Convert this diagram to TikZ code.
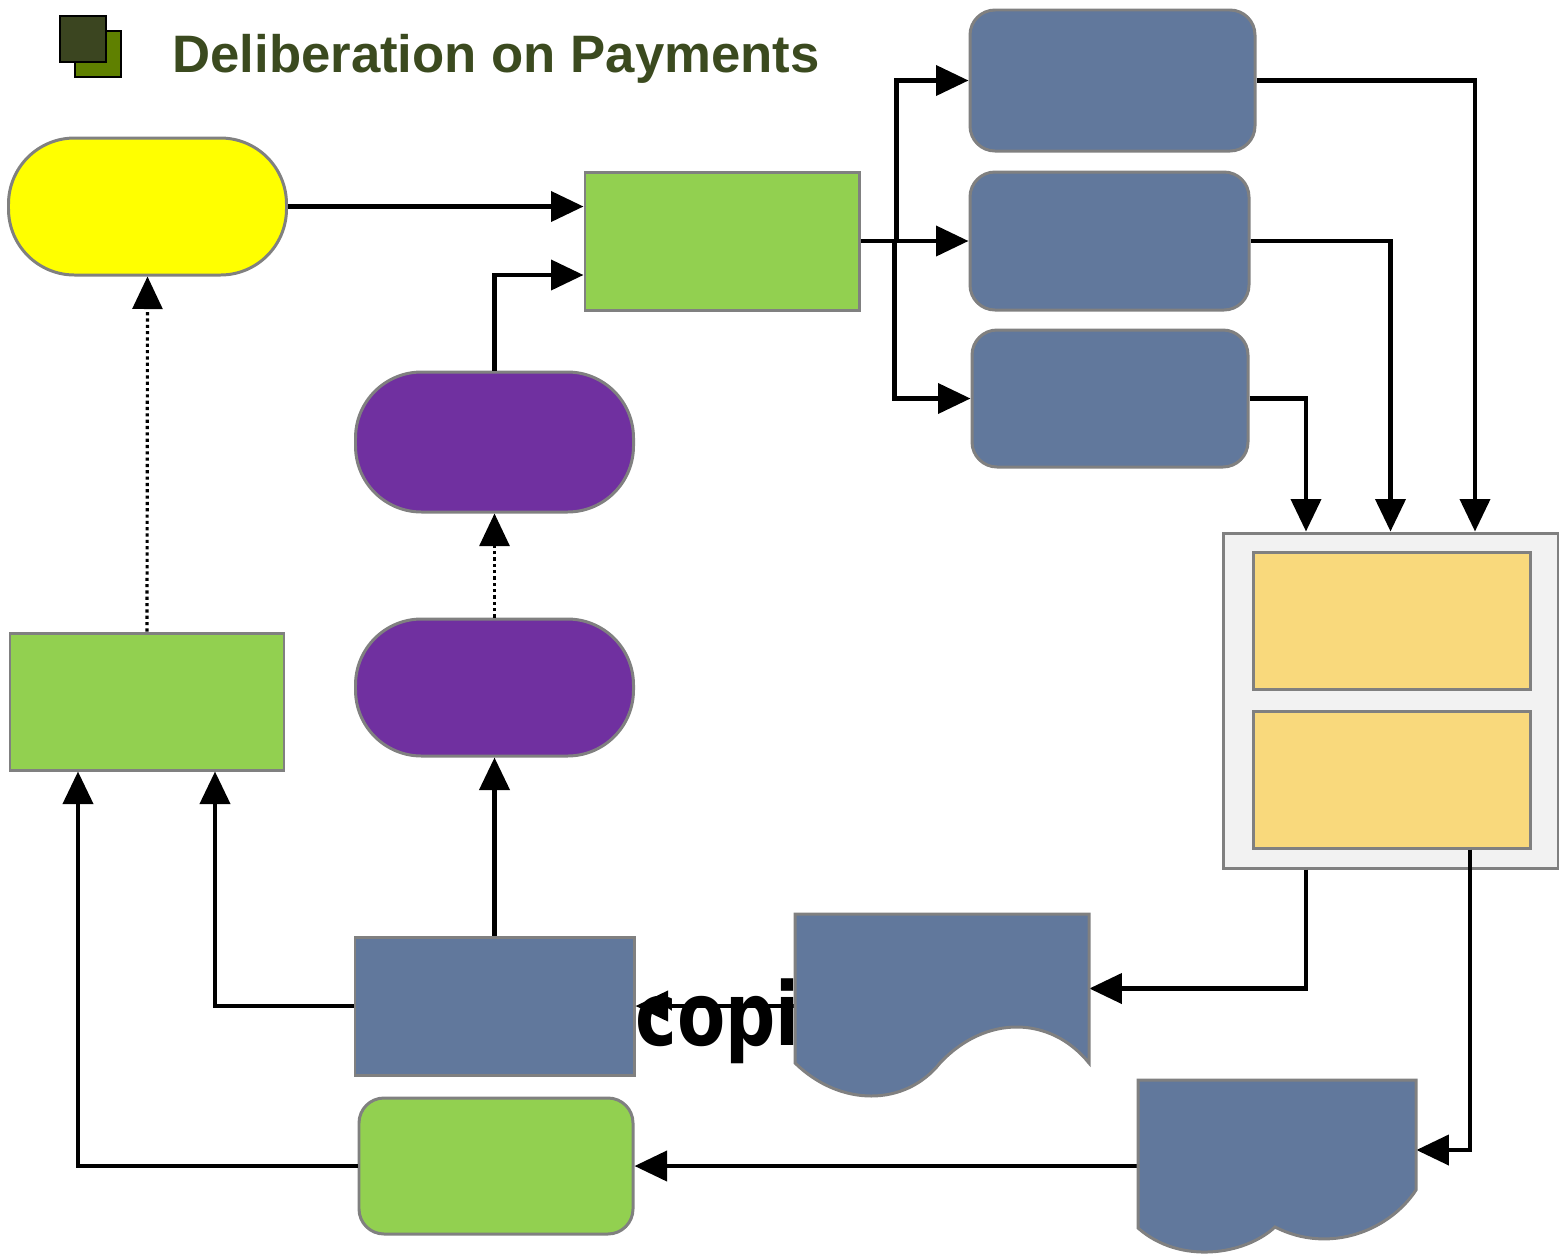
\documentclass[tikz,border=0pt]{standalone}
\usepackage{fontspec}
\usepackage{graphicx}
\usetikzlibrary{arrows.meta}
\newfontfamily\titlefont{Liberation Sans}
\newfontfamily\copifont{DejaVu Sans}
\newlength\px
\setlength\px{0.02cm}
\definecolor{slate}{HTML}{61789C}
\definecolor{leaf}{HTML}{92D050}
\definecolor{plum}{HTML}{7030A0}
\definecolor{lemon}{HTML}{FFFF00}
\definecolor{sand}{HTML}{F9D97C}
\definecolor{paper}{HTML}{F2F2F2}
\definecolor{edgegray}{HTML}{808080}
\definecolor{titlegreen}{HTML}{3B4A1F}
\definecolor{iconfront}{HTML}{3B4520}
\definecolor{iconback}{HTML}{5F8000}
\begin{document}
\begin{tikzpicture}[x=0.02cm,y=-0.02cm,
		base/.style={draw=edgegray, line width=1.7pt, inner sep=0pt},
		gbox/.style={base, fill=leaf, minimum width=274\px, minimum height=137\px},
		bbox/.style={base, fill=slate, rounded corners=25\px, minimum width=279\px, minimum height=138\px},
		term/.style={base, rounded corners=66\px, minimum width=278\px, minimum height=138\px},
		flow/.style={line width=2.5pt, -{Triangle[length=18.5pt,width=17pt]}},
		dotflow/.style={flow, line width=1.8pt, dash pattern=on 1.8pt off 1.8pt}]
	\useasboundingbox (0,0) rectangle (1559,1255);
	% title
	\node[draw, line width=1pt, fill=iconback, minimum size=46\px] (icb) at (98,54) {};
	\node[draw, line width=1pt, fill=iconfront, minimum size=46\px] (icf) at (83,39) {};
	\node[anchor=base west, inner sep=0pt, text=titlegreen, font=\titlefont\bfseries\fontsize{30}{36}\selectfont] (title) at (172,72) {Deliberation on Payments};
	% boxes
	\node[term, fill=lemon, minimum height=137\px] (yel) at (147.5,206.5) {};
	\node[gbox, minimum height=138\px] (g1) at (722,241) {};
	\node[bbox, minimum width=285\px, minimum height=141\px] (r1) at (1112.5,80.5) {};
	\node[bbox] (r2) at (1109.5,241) {};
	\node[bbox, minimum width=276\px, minimum height=137\px] (r3) at (1110,398.5) {};
	\node[term, fill=plum, minimum height=140\px] (p1) at (494.5,442) {};
	\node[term, fill=plum, minimum height=137\px] (p2) at (494.5,687.5) {};
	\node[gbox] (g2) at (147,701.5) {};
	\node[base, fill=paper, minimum size=335\px] (cont) at (1390.5,700.5) {};
	\node[base, fill=sand, minimum width=277\px, minimum height=137\px] (y1) at (1391.5,620.5) {};
	\node[base, fill=sand, minimum width=277\px, minimum height=137\px] (y2) at (1391.5,779.5) {};
	\node[base, fill=slate, minimum width=279\px, minimum height=138\px] (b1) at (494.5,1006) {};
	\node[gbox, rounded corners=25\px, minimum height=136\px] (g3) at (496,1166) {};
	\node[minimum width=294\px, minimum height=149\px] (d1) at (942,988.5) {};
	\node[minimum width=278\px, minimum height=140\px] (d2) at (1277,1150) {};
	% connectors
	\draw[flow] (yel.east) -- (yel.east -| g1.west);
	\draw[flow] (p1.north) |- ([yshift=-34\px]g1.west);
	\draw[flow] (g1.east) -- (r2.west);
	\draw[flow] (g1.east) ++(36,0) |- (r1.west);
	\draw[flow] (g1.east) ++(34,0) |- (r3.west);
	\draw[flow] (r1.east) -| ([xshift=84.5\px]cont.north);
	\draw[flow] (r2.east) -| (cont.north);
	\draw[flow] (r3.east) -| ([xshift=-84.5\px]cont.north);
	\draw[flow] ([xshift=-84.5\px]cont.south) |- (d1.east);
	\draw[flow] ([xshift=78.5\px]y2.south) |- (d2.east);
	\draw[flow] (d2.west |- g3.east) -- (g3.east);
	\draw[flow] (g3.west) -| ([xshift=-69\px]g2.south);
	\draw[flow] (b1.west) -| ([xshift=68\px]g2.south);
	\draw[flow] (b1.north) -- (p2.south);
	\draw[dotflow] (p2.north) -- (p1.south);
	\draw[dotflow] (g2.north) -- (yel.south);
	\draw[flow] (d1.west |- b1.east) -- (b1.east)
		node[anchor=base west, inner sep=0pt, xshift=-2\px, yshift=-39\px, font=\copifont\bfseries\fontsize{50}{50}\selectfont] (copi) {\scalebox{0.8}[1]{copi}};
	% documents
	\filldraw[draw=edgegray, line width=1.7pt, fill=slate] (795,914) -- (1089,914) -- (1089,1063)
		.. controls (1050,1015) and (985,1015) .. (940,1063)
		.. controls (905,1107) and (840,1107) .. (795,1063) -- cycle;
	\filldraw[draw=edgegray, line width=1.7pt, fill=slate] (1138,1080) -- (1416,1080) -- (1416,1190)
		.. controls (1390,1230) and (1330,1255) .. (1275,1227)
		.. controls (1245,1255) and (1180,1265) .. (1138,1228) -- cycle;
\end{tikzpicture}
\end{document}
